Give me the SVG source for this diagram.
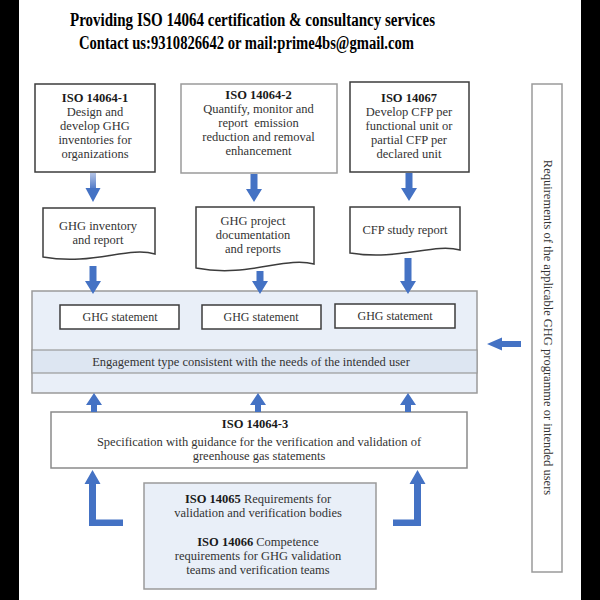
<svg xmlns="http://www.w3.org/2000/svg" width="600" height="600" viewBox="0 0 600 600">
<defs>
<style>
.t{font-family:"Liberation Serif","Times New Roman",serif;font-size:12.5px;fill:#333;text-anchor:middle}
.b{font-weight:bold;fill:#1a1a1a}
.h{font-family:"Liberation Serif","Times New Roman",serif;font-size:18px;font-weight:bold;fill:#000;text-anchor:middle}
.dk{fill:#fff;stroke:#3c3c3c;stroke-width:1.5}
.lt{fill:#fff;stroke:#9a9a9a;stroke-width:1.5}
.ar{fill:#4472c4}
</style>
<linearGradient id="g1" x1="0" y1="0" x2="0" y2="1">
<stop offset="0" stop-color="#b4c4e6"/>
<stop offset="1" stop-color="#4f78c6"/>
</linearGradient>
</defs>
<rect x="0" y="0" width="600" height="600" fill="#000"/>
<rect x="19" y="0" width="562" height="600" fill="#fff"/>

<g id="title">
<text class="h" x="252.5" y="26" textLength="365" lengthAdjust="spacingAndGlyphs">Providing ISO 14064 certification &amp; consultancy services</text>
<text class="h" x="246.5" y="49" textLength="335" lengthAdjust="spacingAndGlyphs">Contact us:9310826642 or mail:prime4bs@gmail.com</text>
</g>

<g id="iso14064-1">
<rect class="dk" x="35" y="84" width="120" height="88"/>
<text class="t b" x="95" y="102">ISO 14064-1</text>
<text class="t" x="95" y="116">Design and</text>
<text class="t" x="95" y="130">develop GHG</text>
<text class="t" x="95" y="144">inventories for</text>
<text class="t" x="95" y="158">organizations</text>
</g>

<g id="iso14064-2">
<rect class="lt" x="181" y="84" width="156" height="89"/>
<text class="t b" x="258.5" y="99">ISO 14064-2</text>
<text class="t" x="258.5" y="113">Quantify, monitor and</text>
<text class="t" x="258.5" y="127">report&#160; emission</text>
<text class="t" x="258.5" y="141">reduction and removal</text>
<text class="t" x="258.5" y="155">enhancement</text>
</g>

<g id="iso14067">
<rect class="dk" x="350" y="82" width="119" height="90"/>
<text class="t b" x="409" y="102">ISO 14067</text>
<text class="t" x="409" y="116">Develop CFP per</text>
<text class="t" x="409" y="130">functional unit or</text>
<text class="t" x="409" y="144">partial CFP per</text>
<text class="t" x="409" y="158">declared unit</text>
</g>

<g id="doc1">
<path class="dk" d="M43,208 H155 V254 C128,246 92,266 43,257 Z"/>
<text class="t" x="98" y="230">GHG inventory</text>
<text class="t" x="98" y="244">and report</text>
</g>

<g id="doc2">
<path class="dk" d="M196,207 H314 V264 C285,256 248,278 196,268 Z"/>
<text class="t" x="253" y="225">GHG project</text>
<text class="t" x="253" y="239">documentation</text>
<text class="t" x="253" y="253">and reports</text>
</g>

<g id="doc3">
<path class="dk" d="M350,207 H460 V250 C433,243 398,261 350,253 Z"/>
<text class="t" x="405" y="234">CFP study report</text>
</g>

<g id="panel">
<rect x="32" y="291" width="445" height="102" fill="#e9eff8" stroke="#9a9a9a" stroke-width="1.5"/>
<rect x="32" y="350" width="445" height="23" fill="#dde6f2" stroke="#9a9a9a" stroke-width="1.2"/>
<text class="t" x="251" y="366">Engagement type consistent with the needs of the intended user</text>
</g>

<g id="ghg1">
<rect class="dk" x="60" y="305" width="119" height="24"/>
<text class="t" x="120" y="321" style="font-size:12px">GHG statement</text>
</g>
<g id="ghg2">
<rect class="dk" x="202" y="305" width="119" height="24"/>
<text class="t" x="261" y="321" style="font-size:12px">GHG statement</text>
</g>
<g id="ghg3">
<rect class="dk" x="335" y="304" width="120" height="24"/>
<text class="t" x="395" y="320" style="font-size:12px">GHG statement</text>
</g>

<g id="iso14064-3">
<rect class="lt" x="51" y="412" width="416" height="56" style="stroke:#8a8a8a"/>
<text class="t b" x="255" y="428">ISO 14064-3</text>
<text class="t" x="259" y="446">Specification with guidance for the verification and validation of</text>
<text class="t" x="259" y="460">greenhouse gas statements</text>
</g>

<g id="iso14065-14066">
<rect x="144" y="483" width="232" height="106" fill="#e9eff8" stroke="#9a9a9a" stroke-width="1.5"/>
<text class="t" x="258" y="503"><tspan class="b">ISO 14065</tspan> Requirements for</text>
<text class="t" x="258" y="517">validation and verification bodies</text>
<text class="t" x="258" y="546"><tspan class="b">ISO 14066</tspan> Competence</text>
<text class="t" x="258" y="560">requirements for GHG validation</text>
<text class="t" x="258" y="574">teams and verification teams</text>
</g>

<g id="requirements">
<rect class="lt" x="532" y="84" width="30" height="488"/>
<text class="t" x="0" y="0" transform="translate(543.5,327.5) rotate(90)">Requirements of the applicable GHG programme or intended users</text>
</g>

<g id="connectors">
<rect x="90" y="173" width="6" height="16" fill="url(#g1)"/>
<polygon class="ar" points="85.5,188 100.5,188 93,202"/>
<polygon class="ar" points="250.5,174 257.5,174 257.5,189 262,189 254,202 246,189 250.5,189"/>
<polygon class="ar" points="405.5,173 412.5,173 412.5,188 417,188 409,201 401,188 405.5,188"/>
<polygon class="ar" points="89.5,266 96.5,266 96.5,281 101,281 93,294 85,281 89.5,281"/>
<polygon class="ar" points="256.5,271 263.5,271 263.5,281 268,281 260,294 252,281 256.5,281"/>
<polygon class="ar" points="404.5,258 411.5,258 411.5,281 416,281 408,294 400,281 404.5,281"/>
<polygon class="ar" points="521,341 502,341 502,337.5 487,344 502,350.5 502,347 521,347"/>
<polygon class="ar" points="91,412 97,412 97,405 102,405 94,393 86,405 91,405"/>
<polygon class="ar" points="255,412 261,412 261,405 266,405 258,393 250,405 255,405"/>
<polygon class="ar" points="405,412 411,412 411,405 416,405 408,393 400,405 405,405"/>
<polygon class="ar" points="123,519.5 96,519.5 96,484 100.5,484 92.5,470 84.5,484 89,484 89,526 123,526"/>
<polygon class="ar" points="393,519.5 414,519.5 414,484 409.5,484 417.5,470 425.5,484 421,484 421,526 393,526"/>
</g>
</svg>
